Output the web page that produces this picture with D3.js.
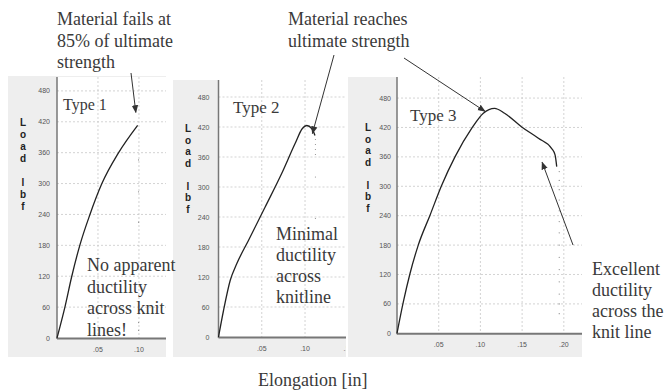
<!DOCTYPE html>
<html>
<head>
<meta charset="utf-8">
<script src="https://cdn.jsdelivr.net/npm/d3@7"></script>
<style>
  html, body { margin: 0; padding: 0; background: #ffffff; }
  svg { display: block; }
  .tick-label { font-family: Arial, "Liberation Sans", sans-serif; font-size: 7px; fill: #555; }
  .axis-letter { font-family: Arial, "Liberation Sans", sans-serif; font-size: 10px; font-weight: bold; fill: #222; }
  .note { font-family: "Times New Roman", "Liberation Serif", serif; fill: #3a3a3a; }
</style>
</head>
<body>
<svg id="chart" width="667" height="391"></svg>
<script>
// Load–elongation curves for three knit-line failure types
const type1Elong = [0, 0.0098, 0.0179, 0.028, 0.040, 0.0545, 0.0748, 0.0984];
const type1Load  = [0, 61, 119, 181, 239, 299, 359, 413];
const type1DropLoad = [346, 284, 225, 30, 15];

const type2Elong = [0, 0.0058, 0.0135, 0.0212, 0.0346, 0.0539, 0.073, 0.0885, 0.0969, 0.102, 0.1077, 0.1115];
const type2Load  = [0, 53, 113, 147, 193, 260, 327, 387, 417, 423, 417, 403];
const type2DropLoad = [395, 385, 375, 365, 320, 237];

const type3Elong = [0, 0.0076, 0.0156, 0.0255, 0.0396, 0.0536, 0.0695, 0.0895, 0.1035, 0.117, 0.129, 0.1495, 0.1695, 0.1855, 0.1895, 0.1915];
const type3Load  = [0, 64, 122, 180, 241, 302, 360, 418, 449, 459, 449, 421, 398, 377, 364, 340];
const type3DropLoad = [330, 312, 293, 272, 250, 228, 205, 180, 155, 130, 105, 80, 60, 40];

const loadTicks = [0, 60, 120, 180, 240, 300, 360, 420, 480];
const elongTicks12 = [0.05, 0.10, 0.15];
const elongTicks3 = [0.05, 0.10, 0.15, 0.20];
const elongTickText = [".05", ".10", ".15", ".20"];
const axisLetters = ["L", "o", "a", "d", "", "l", "b", "f"];

const svg = d3.select("#chart");
const defs = svg.append("defs");
defs.append("marker")
  .attr("id", "head")
  .attr("viewBox", "0 0 10 10")
  .attr("refX", 9).attr("refY", 5)
  .attr("markerWidth", 8).attr("markerHeight", 8)
  .attr("markerUnits", "userSpaceOnUse")
  .attr("orient", "auto")
  .append("path").attr("d", "M0,1 L10,5 L0,9 Z").attr("fill", "#333");

// Panel frames: grey card, white plotting area, axes, grid
const panels = [
  { card: [8, 76, 166, 357], plot: [57, 77, 166, 338], xMax: 0.133, yMax: 507,
    ticks: elongTicks12, letterX: 23, letterY0: 126, letterStep: 12, labelGap: 7,
    elong: type1Elong, load: type1Load, dropX: 0.0995, drop: type1DropLoad },
  { card: [173, 80, 346, 357], plot: [218.5, 80, 360, 337], xMax: 0.1635, yMax: 514,
    ticks: elongTicks12, letterX: 188, letterY0: 132, letterStep: 11.5, labelGap: 9,
    elong: type2Elong, load: type2Load, dropX: 0.112, drop: type2DropLoad },
  { card: [348, 77, 582, 357], plot: [397, 77, 582, 333.3], xMax: 0.2218, yMax: 523,
    ticks: elongTicks3, letterX: 368, letterY0: 131, letterStep: 11.5, labelGap: 6,
    elong: type3Elong, load: type3Load, dropX: 0.1945, drop: type3DropLoad }
];

panels.forEach((p, i) => {
  const [cx0, cy0, cx1, cy1] = p.card;
  const [px0, py0, px1, py1] = p.plot;
  const clipId = "clip" + i;
  defs.append("clipPath").attr("id", clipId)
    .append("rect").attr("x", cx0).attr("y", cy0).attr("width", cx1 - cx0).attr("height", cy1 - cy0);

  const g = svg.append("g").attr("clip-path", `url(#${clipId})`);
  g.append("rect").attr("x", cx0).attr("y", cy0).attr("width", cx1 - cx0).attr("height", cy1 - cy0)
    .attr("fill", "#eeeeee");
  g.append("rect").attr("x", px0).attr("y", py0).attr("width", px1 - px0).attr("height", py1 - py0)
    .attr("fill", "#ffffff");

  const x = d3.scaleLinear().domain([0, p.xMax]).range([px0, px1]);
  const y = d3.scaleLinear().domain([0, p.yMax]).range([py1, py0]);
  p.x = x; p.y = y;

  // dotted grid
  g.selectAll(null).data(loadTicks.slice(1)).join("line")
    .attr("x1", px0).attr("x2", px1)
    .attr("y1", d => y(d)).attr("y2", d => y(d))
    .attr("stroke", "#c8c8c8").attr("stroke-width", 0.8).attr("stroke-dasharray", "2,2");
  g.selectAll(null).data(p.ticks).join("line")
    .attr("x1", d => x(d)).attr("x2", d => x(d))
    .attr("y1", py0).attr("y2", py1)
    .attr("stroke", "#c8c8c8").attr("stroke-width", 0.8).attr("stroke-dasharray", "2,2");

  // axes
  g.append("line").attr("x1", px0).attr("x2", px0).attr("y1", py0).attr("y2", py1 + 1)
    .attr("stroke", "#777").attr("stroke-width", 1.5);
  g.append("line").attr("x1", px0).attr("x2", px1).attr("y1", py1 + 0.5).attr("y2", py1 + 0.5)
    .attr("stroke", "#777").attr("stroke-width", 2);

  // tick labels
  g.selectAll(null).data(loadTicks).join("text")
    .attr("class", "tick-label")
    .attr("x", px0 - p.labelGap).attr("y", d => y(d) + 2.5)
    .attr("text-anchor", "end")
    .text(d => d);
  g.selectAll(null).data(p.ticks).join("text")
    .attr("class", "tick-label")
    .attr("x", d => x(d)).attr("y", py1 + 13.5)
    .attr("text-anchor", "middle")
    .text((d, k) => elongTickText[k]);

  // stacked axis title
  g.selectAll(null).data(axisLetters).join("text")
    .attr("class", "axis-letter")
    .attr("x", p.letterX).attr("y", (d, k) => p.letterY0 + k * p.letterStep)
    .attr("text-anchor", "middle")
    .text(d => d);

  // load curve
  const pts = p.elong.map((e, k) => [e, p.load[k]]);
  g.append("path")
    .attr("d", d3.line().x(d => x(d[0])).y(d => y(d[1])).curve(d3.curveMonotoneX)(pts))
    .attr("fill", "none").attr("stroke", "#222").attr("stroke-width", 1.3);

  // sparse samples after rupture
  g.selectAll(null).data(p.drop).join("circle")
    .attr("cx", d => x(p.dropX)).attr("cy", d => y(d)).attr("r", 0.6)
    .attr("fill", "#888");
});

// Labels and call-outs
function note(lines, x0, y0, size, step) {
  const t = svg.append("text").attr("class", "note").attr("font-size", size);
  lines.forEach((s, k) => t.append("tspan").attr("x", x0).attr("y", y0 + k * step).text(s));
}
function arrow(x1, y1, x2, y2) {
  svg.append("line").attr("x1", x1).attr("y1", y1).attr("x2", x2).attr("y2", y2)
    .attr("stroke", "#333").attr("stroke-width", 1).attr("marker-end", "url(#head)");
}

const [p1, p2, p3] = panels;

note(["Type 1"], 63, 110, 16, 0);
note(["Type 2"], 233, 113, 17, 0);
note(["Type 3"], 410, 121, 17, 0);

note(["Material fails at", "85% of ultimate", "strength"], 57, 25, 18, 21.5);
note(["Material reaches", "ultimate strength"], 288, 25, 18, 21.5);
note(["No apparent", "ductility", "across knit", "lines!"], 87, 271, 18, 21.7);
note(["Minimal", "ductility", "across", "knitline"], 276, 240, 18, 21);
note(["Excellent", "ductility", "across the", "knit line"], 592, 275, 18, 21);
note(["Elongation [in]"], 258, 385.5, 18, 0);

// arrows point at the failure / peak loads
arrow(131, 73, p1.x(0.0962), p1.y(413) - 13);
arrow(334, 55, p2.x(0.1085), p2.y(423) + 8);
arrow(404, 58, p3.x(0.1055), p3.y(459) + 3);
arrow(573, 245, p3.x(0.174), p3.y(349));
</script>
</body>
</html>
